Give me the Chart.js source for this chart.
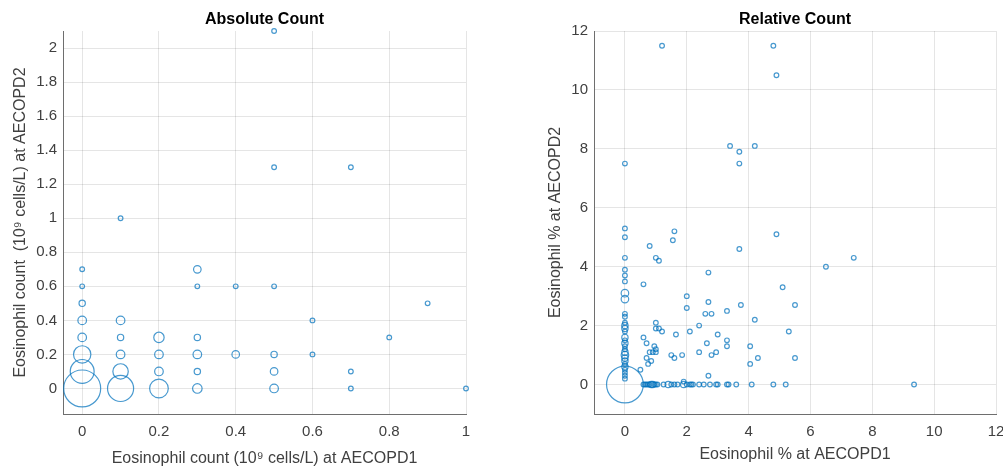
<!DOCTYPE html>
<html>
<head>
<meta charset="utf-8">
<script src="https://cdn.jsdelivr.net/npm/chart.js"></script>
<style>
  body { margin: 0; background: #fff; }
  #wrap { position: relative; width: 1003px; height: 468px; overflow: hidden; }
  canvas { position: absolute; top: 0; }
</style>
</head>
<body>
<div id="wrap">
  <canvas id="absChart" width="500" height="468" style="left:0"></canvas>
  <canvas id="relChart" width="503" height="468" style="left:500px"></canvas>
</div>
<script>
// Absolute count: AECOPD1 vs AECOPD2 (10^9 cells/L), n = number of patients
var absX = [0, 0, 0, 0, 0, 0, 0, 0,
            0.1, 0.1, 0.1, 0.1, 0.1, 0.1,
            0.2, 0.2, 0.2, 0.2,
            0.3, 0.3, 0.3, 0.3, 0.3, 0.3,
            0.4, 0.4,
            0.5, 0.5, 0.5, 0.5, 0.5, 0.5,
            0.6, 0.6,
            0.7, 0.7, 0.7,
            0.8, 0.9, 1.0];
var absY = [0, 0.1, 0.2, 0.3, 0.4, 0.5, 0.6, 0.7,
            0, 0.1, 0.2, 0.3, 0.4, 1.0,
            0, 0.1, 0.2, 0.3,
            0, 0.1, 0.2, 0.3, 0.6, 0.7,
            0.2, 0.6,
            0, 0.1, 0.2, 0.6, 1.3, 2.1,
            0.2, 0.4,
            0, 0.1, 1.3,
            0.3, 0.5, 0];
var absN = [86, 35, 18, 4, 4, 2, 1, 1,
            42, 14, 4, 2, 4, 1,
            21, 4, 4, 6,
            5, 2, 4, 2, 1, 3,
            3, 1,
            4, 3, 2, 1, 1, 1,
            1, 1,
            1, 1, 1,
            1, 1, 1];

// Relative count (eosinophil %): points with AECOPD1 = 0
var relColY = [7.5, 5.3, 5.0, 4.3, 3.9, 3.7, 3.5, 3.1, 2.9, 2.4, 2.3, 2.1, 2.0, 1.9, 1.8, 1.6,
               1.5, 1.4, 1.3, 1.2, 1.1, 1.0, 0.9, 0.8, 0.7, 0.6, 0.5, 0.4, 0.3, 0.2, 0];
var relColN = [1, 1, 1, 1, 1, 1, 1, 3, 3, 1, 1, 1, 2, 2, 1, 2,
               1, 2, 1, 1, 2, 3, 2, 2, 1, 2, 1, 1, 1, 1, 85];
// points with AECOPD2 = 0
var relRowX = [0.6, 0.65, 0.7, 0.75, 0.8, 0.85, 0.9, 0.95, 1.0, 1.05, 1.25, 1.4, 1.5, 1.6, 1.7, 1.9,
               2.0, 2.1, 2.15, 2.2, 2.4, 2.55, 2.75, 2.95, 3.0, 3.3, 3.35, 3.6, 4.1, 4.8, 5.2, 9.35];
var relRowN = [1, 1, 1, 1, 1, 2, 2, 1, 1, 1, 1, 2, 1, 1, 1, 2,
               1, 1, 1, 1, 1, 1, 1, 1, 1, 1, 1, 1, 1, 1, 1, 1];
// all other single points
var relX = [1.2, 4.8, 4.9, 3.4, 3.7, 3.7, 4.2,
            1.6, 1.55, 0.8, 1.0, 1.1, 4.9, 3.7, 6.5, 7.4, 2.7, 0.6, 5.1, 2.0, 2.7, 3.75, 5.5, 2.0, 2.6, 2.8, 3.3,
            4.2, 2.4, 1.0, 1.0, 1.1, 1.2, 1.65, 2.1, 3.0, 5.3, 0.6, 0.7, 2.65, 3.3, 3.3, 4.05, 0.95, 1.0,
            0.8, 0.9, 1.0, 1.5, 1.6, 1.85, 2.4, 2.95, 2.8, 0.7, 0.85, 0.75, 4.3, 5.5, 4.05, 0.5, 2.7, 1.9];
var relY = [11.5, 11.5, 10.5, 8.1, 7.9, 7.5, 8.1,
            5.2, 4.9, 4.7, 4.3, 4.2, 5.1, 4.6, 4.0, 4.3, 3.8, 3.4, 3.3, 3.0, 2.8, 2.7, 2.7, 2.6, 2.4, 2.4, 2.5,
            2.2, 2.0, 2.1, 1.9, 1.9, 1.8, 1.7, 1.8, 1.7, 1.8, 1.6, 1.4, 1.4, 1.5, 1.3, 1.3, 1.3, 1.2,
            1.1, 1.1, 1.1, 1.0, 0.9, 1.0, 1.1, 1.1, 1.0, 0.9, 0.8, 0.7, 0.9, 0.9, 0.7, 0.5, 0.3, 0.1];

var absXTicks = [0, 0.2, 0.4, 0.6, 0.8, 1];
var absYTicks = [0, 0.2, 0.4, 0.6, 0.8, 1, 1.2, 1.4, 1.6, 1.8, 2];
var relTicks = [0, 2, 4, 6, 8, 10, 12];

var FONT = "'Liberation Sans', Arial, Helvetica, sans-serif";
var BLUE = 'rgba(0, 114, 189, 0.72)';

// marker area grows with number of patients
function bubbles(xs, ys, ns) {
  return xs.map(function (x, i) {
    return { x: x, y: ys[i], r: 1.95 * Math.sqrt(ns[i]) + 0.4 };
  });
}

function fill(n, v) {
  var a = [];
  for (var i = 0; i < n; i++) a.push(v);
  return a;
}

var relData = bubbles(relX, relY, fill(relX.length, 1))
  .concat(bubbles(fill(relColY.length, 0), relColY, relColN))
  .concat(bubbles(relRowX, fill(relRowX.length, 0), relRowN));

function axis(min, max, ticks, label, horizontal, titlePad, size) {
  return {
    type: 'linear',
    min: min,
    max: max,
    afterBuildTicks: function (scale) {
      scale.ticks = ticks.map(function (v) { return { value: v }; });
    },
    afterFit: function (scale) {
      if (horizontal) {
        scale.height = size;
        scale.paddingLeft = 0;
        scale.paddingRight = 0;
      } else {
        scale.width = size;
        scale.paddingTop = 0;
        scale.paddingBottom = 0;
      }
    },
    grid: { color: 'rgba(0,0,0,0.1)', drawTicks: false },
    border: { color: '#6e6e6e', width: 1 },
    ticks: {
      padding: horizontal ? 9 : 6,
      color: '#404040',
      font: { family: FONT, size: 15 },
      callback: function (v) { return String(Math.round(v * 10) / 10); }
    },
    title: {
      display: true,
      text: label,
      color: '#404040',
      font: { family: FONT, size: 16 },
      padding: horizontal ? { bottom: titlePad } : { top: titlePad }
    }
  };
}

function makeChart(id, title, data, xScale, yScale, padRight) {
  return new Chart(document.getElementById(id), {
    type: 'bubble',
    data: {
      datasets: [{
        data: data,
        borderColor: BLUE,
        backgroundColor: 'rgba(0,0,0,0)',
        borderWidth: 1.2,
        clip: false
      }]
    },
    options: {
      responsive: false,
      animation: false,
      layout: { autoPadding: false, padding: { left: 0, right: padRight, top: 0, bottom: 0 } },
      plugins: {
        legend: { display: false },
        tooltip: { enabled: false },
        title: {
          display: true,
          text: title,
          fullSize: false,
          color: '#000',
          font: { family: FONT, size: 16, weight: 'bold' },
          padding: { top: 10, bottom: 1.8 }
        }
      },
      scales: { x: xScale, y: yScale }
    }
  });
}

makeChart('absChart', 'Absolute Count', bubbles(absX, absY, absN),
  axis(-0.05, 1, absXTicks, 'Eosinophil count (10\u2079 cells/L) at AECOPD1', true, 0, 54),
  axis(-0.15, 2.1, absYTicks, 'Eosinophil count  (10\u2079 cells/L) at AECOPD2', false, 11, 63),
  34);

makeChart('relChart', 'Relative Count', relData,
  axis(-1, 12, relTicks, 'Eosinophil % at AECOPD1', true, 3.5, 54),
  axis(-1, 12, relTicks, 'Eosinophil % at AECOPD2', false, 46.4, 94),
  7);
</script>
</body>
</html>
